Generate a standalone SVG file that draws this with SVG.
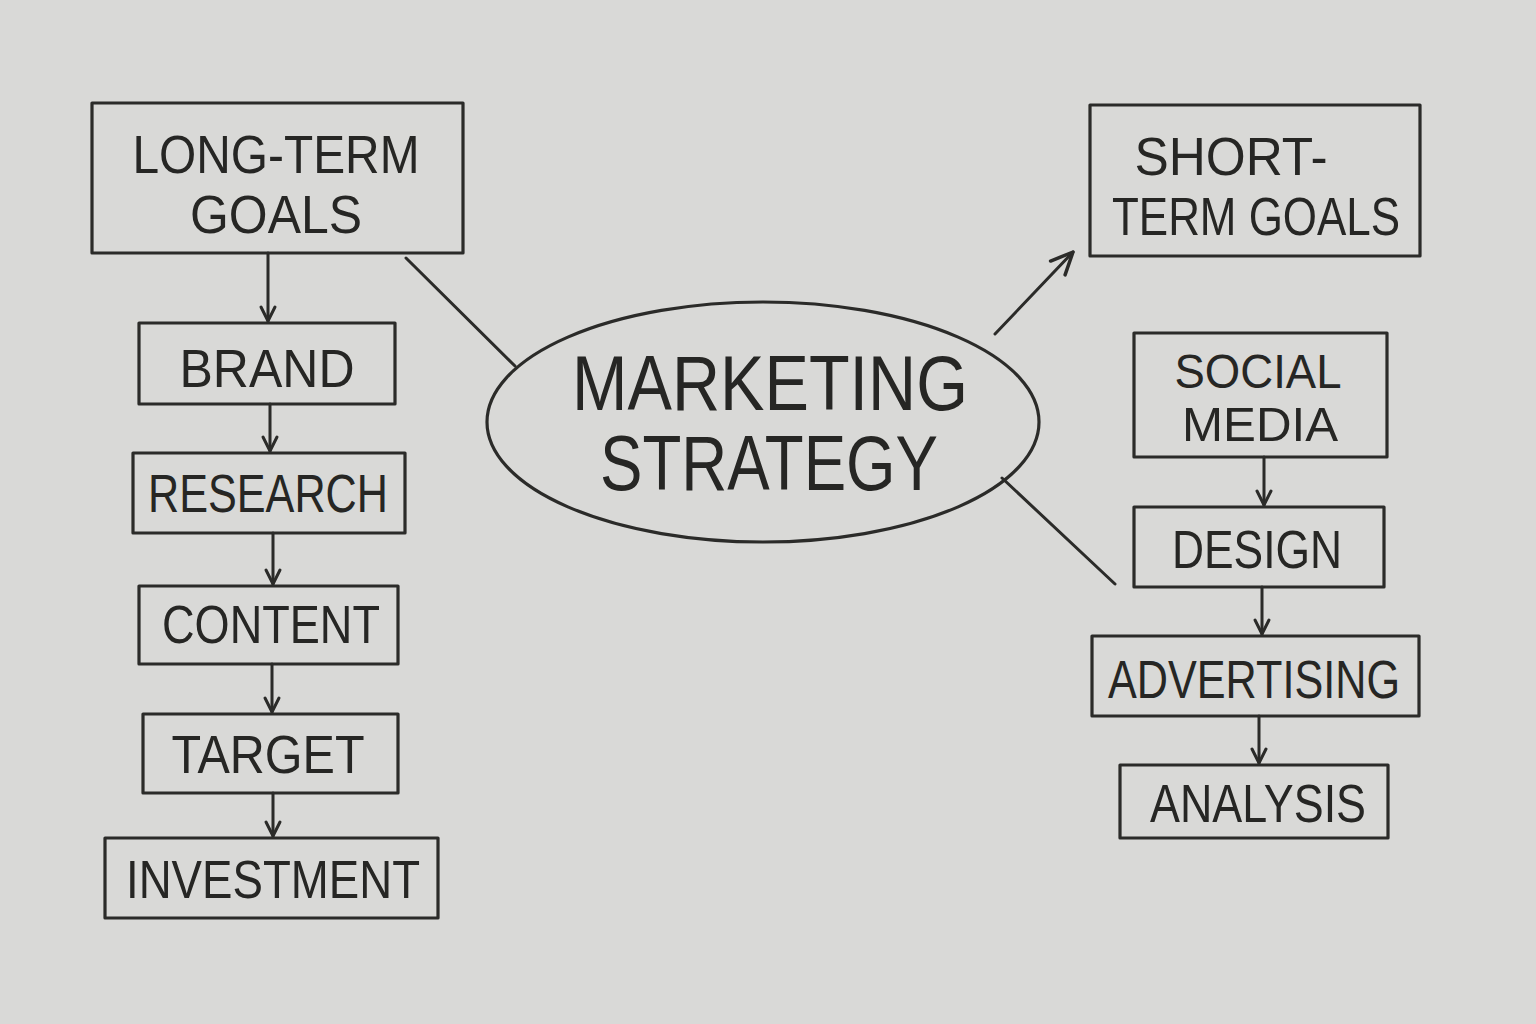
<svg xmlns="http://www.w3.org/2000/svg" width="1536" height="1024" viewBox="0 0 1536 1024">
<defs>
<style>
.bg{fill:#d9d9d7}
.box{fill:none;stroke:#2b2b29;stroke-width:3.2;stroke-linejoin:round}
.ln{fill:none;stroke:#2b2b29;stroke-width:3;stroke-linecap:round}
.t{font-family:"Liberation Sans","DejaVu Sans",sans-serif;fill:#262624;text-anchor:middle;font-size:53px}
.big{font-size:78px}
.sm{font-size:48px}
</style>
<marker id="ah" viewBox="0 0 20 20" refX="17" refY="10" markerWidth="20" markerHeight="20" markerUnits="userSpaceOnUse" orient="auto">
<path d="M3,3 L17,10 L3,17" fill="none" stroke="#2b2b29" stroke-width="3" stroke-linecap="round" stroke-linejoin="round"/>
</marker>
<marker id="ah2" viewBox="0 0 30 30" refX="26" refY="15" markerWidth="30" markerHeight="30" markerUnits="userSpaceOnUse" orient="auto">
<path d="M4,5 L26,15 L4,25" fill="none" stroke="#2b2b29" stroke-width="3.5" stroke-linecap="round" stroke-linejoin="round"/>
</marker>
</defs>
<rect class="bg" x="0" y="0" width="1536" height="1024"/>

<g id="connectors">
<line class="ln" x1="268" y1="253" x2="268" y2="321" marker-end="url(#ah)"/>
<line class="ln" x1="270" y1="404" x2="270" y2="451" marker-end="url(#ah)"/>
<line class="ln" x1="273" y1="533" x2="273" y2="584" marker-end="url(#ah)"/>
<line class="ln" x1="272" y1="664" x2="272" y2="712" marker-end="url(#ah)"/>
<line class="ln" x1="273" y1="793" x2="273" y2="836" marker-end="url(#ah)"/>
<line class="ln" x1="406" y1="258" x2="515" y2="366"/>
<line class="ln" x1="995" y1="334" x2="1073" y2="252" marker-end="url(#ah2)"/>
<line class="ln" x1="1002" y1="478" x2="1115" y2="584"/>
<line class="ln" x1="1264" y1="457" x2="1264" y2="505" marker-end="url(#ah)"/>
<line class="ln" x1="1262" y1="587" x2="1262" y2="634" marker-end="url(#ah)"/>
<line class="ln" x1="1259" y1="716" x2="1259" y2="763" marker-end="url(#ah)"/>
</g>

<g id="long-term">
<rect class="box" x="92" y="103" width="371" height="150"/>
<text class="t" x="276" y="173" textLength="287" lengthAdjust="spacingAndGlyphs">LONG-TERM</text>
<text class="t" x="276" y="233" textLength="172" lengthAdjust="spacingAndGlyphs">GOALS</text>
</g>
<g id="brand">
<rect class="box" x="139" y="323" width="256" height="81"/>
<text class="t" x="267" y="387" textLength="175" lengthAdjust="spacingAndGlyphs">BRAND</text>
</g>
<g id="research">
<rect class="box" x="133" y="453" width="272" height="80"/>
<text class="t" x="268" y="512" textLength="240" lengthAdjust="spacingAndGlyphs">RESEARCH</text>
</g>
<g id="content">
<rect class="box" x="139" y="586" width="259" height="78"/>
<text class="t" x="271" y="643" textLength="218" lengthAdjust="spacingAndGlyphs">CONTENT</text>
</g>
<g id="target">
<rect class="box" x="143" y="714" width="255" height="79"/>
<text class="t" x="268" y="773" textLength="193" lengthAdjust="spacingAndGlyphs">TARGET</text>
</g>
<g id="investment">
<rect class="box" x="105" y="838" width="333" height="80"/>
<text class="t" x="273" y="898" textLength="294" lengthAdjust="spacingAndGlyphs">INVESTMENT</text>
</g>

<g id="marketing-strategy">
<ellipse class="box" cx="763" cy="422" rx="276" ry="120"/>
<text class="t big" x="770" y="410" textLength="396" lengthAdjust="spacingAndGlyphs">MARKETING</text>
<text class="t big" x="769" y="490" textLength="338" lengthAdjust="spacingAndGlyphs">STRATEGY</text>
</g>

<g id="short-term">
<rect class="box" x="1090" y="105" width="330" height="151"/>
<text class="t" x="1231" y="175" textLength="193" lengthAdjust="spacingAndGlyphs">SHORT-</text>
<text class="t" x="1256" y="235" textLength="288" lengthAdjust="spacingAndGlyphs">TERM GOALS</text>
</g>
<g id="social-media">
<rect class="box" x="1134" y="333" width="253" height="124"/>
<text class="t sm" x="1258" y="388" textLength="167" lengthAdjust="spacingAndGlyphs">SOCIAL</text>
<text class="t sm" x="1260" y="441" textLength="156" lengthAdjust="spacingAndGlyphs">MEDIA</text>
</g>
<g id="design">
<rect class="box" x="1134" y="507" width="250" height="80"/>
<text class="t" x="1257" y="568" textLength="170" lengthAdjust="spacingAndGlyphs">DESIGN</text>
</g>
<g id="advertising">
<rect class="box" x="1092" y="636" width="327" height="80"/>
<text class="t" x="1254" y="698" textLength="292" lengthAdjust="spacingAndGlyphs">ADVERTISING</text>
</g>
<g id="analysis">
<rect class="box" x="1120" y="765" width="268" height="73"/>
<text class="t" x="1258" y="822" textLength="216" lengthAdjust="spacingAndGlyphs">ANALYSIS</text>
</g>
</svg>
